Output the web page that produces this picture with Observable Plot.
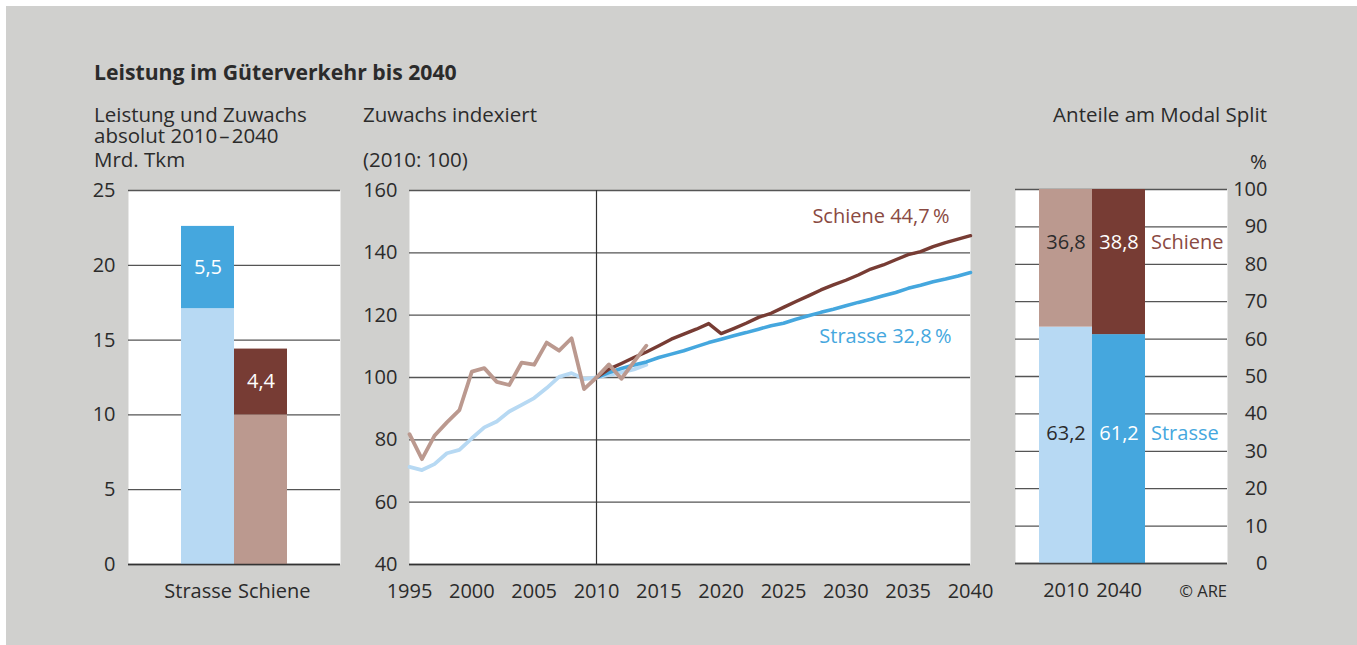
<!DOCTYPE html>
<html><head><meta charset="utf-8">
<script src="https://cdn.jsdelivr.net/npm/d3@7"></script>
<script src="https://cdn.jsdelivr.net/npm/@observablehq/plot@0.6"></script>
<style>
html,body{margin:0;padding:0;background:#fff;}
body{width:1357px;height:645px;overflow:hidden;position:relative;font-family:"Open Sans",sans-serif;}
#bg{position:absolute;left:6px;top:6px;right:0;bottom:0;background:#d0d0ce;}
.t{position:absolute;color:#2b2b2b;font-size:20.5px;line-height:21px;white-space:nowrap;font-weight:400;}
.chart{position:absolute;}
</style></head><body>
<div id="bg"></div>
<div class="t" style="left:94px;top:61px;font-weight:700;font-size:21.2px;">Leistung im Güterverkehr bis 2040</div>
<div class="t" style="left:94px;top:104px;">Leistung und Zuwachs<br>absolut 2010&#8202;–&#8202;2040</div>
<div class="t" style="left:94px;top:149px;">Mrd. Tkm</div>
<div class="t" style="left:363px;top:104px;">Zuwachs indexiert</div>
<div class="t" style="left:363px;top:149px;">(2010: 100)</div>
<div class="t" style="right:90px;top:104px;">Anteile am Modal Split</div>
<div class="t" style="right:90px;top:151px;">%</div>
<div class="t" style="right:130px;top:580px;font-size:16.5px;">© ARE</div>
<div id="c1" class="chart" style="left:60px;top:170px;"></div>
<div id="c2" class="chart" style="left:340px;top:170px;"></div>
<div id="c3" class="chart" style="left:990px;top:170px;"></div>
<script>
// ---- Data: panel 1 (Mrd. Tkm) ----
const modes = ["Strasse", "Schiene"];
const level2010 = [17.1, 10.0];
const growth2040 = [5.5, 4.4];
const leftTicks = [0, 5, 10, 15, 20, 25];

// ---- Data: panel 2 (Index 2010 = 100) ----
const histYears = [1995,1996,1997,1998,1999,2000,2001,2002,2003,2004,2005,2006,2007,2008,2009,2010,2011,2012,2013,2014];
const strasseHist = [71.3,70.3,72.2,75.7,76.8,80.5,84.0,85.9,89.1,91.2,93.4,96.6,100.2,101.4,99.5,100,100.8,101.6,102.6,104.1];
const schieneHist = [81.8,73.8,81.3,85.6,89.5,101.9,103.0,98.6,97.6,104.8,104.1,111.2,108.6,112.6,96.3,100,104.2,99.6,105.0,110.2];
const projYears = [2010,2011,2012,2013,2014,2015,2016,2017,2018,2019,2020,2021,2022,2023,2024,2025,2026,2027,2028,2029,2030,2031,2032,2033,2034,2035,2036,2037,2038,2039,2040];
const strasseProj = [100,101.6,102.9,104.0,105.0,106.4,107.5,108.6,109.9,111.2,112.3,113.4,114.4,115.5,116.6,117.4,118.7,119.8,120.9,121.9,123.0,124.1,125.1,126.2,127.3,128.6,129.6,130.7,131.6,132.6,133.7];
const schieneProj = [100,102.7,104.5,106.4,108.2,110.2,112.3,113.9,115.5,117.3,114.1,115.7,117.4,119.3,120.6,122.5,124.4,126.2,128.1,129.7,131.2,132.9,134.8,136.1,137.8,139.4,140.4,142.0,143.3,144.4,145.5];
const midXTicks = [1995,2000,2005,2010,2015,2020,2025,2030,2035,2040];
const midYTicks = [40,60,80,100,120,140,160];
const lineLabels = ["Schiene 44,7\u2009%", "Strasse 32,8\u2009%"];

// ---- Data: panel 3 (Modal Split %) ----
const splitYears = ["2010", "2040"];
const splitStrasse = [63.2, 61.2];
const splitSchiene = [36.8, 38.8];
const rightTicks = [0,10,20,30,40,50,60,70,80,90,100];

// ---- Colours ----
const C = {
  strasseLight: "#b7d9f3", strasse: "#45a7de",
  schieneLight: "#bb998f", schiene: "#773c34",
  schieneText: "#8a4a42", grid: "#555", text: "#2b2b2b"
};
const fmt = v => String(v).replace(".", ",");
const FS = 20;
const baseStyle = {background: "transparent", fontFamily: "Open Sans, sans-serif", fontSize: FS + "px", fontWeight: 400, color: C.text, overflow: "visible"};

// ---------- Panel 1 ----------
const barRows = [];
modes.forEach((m, i) => {
  barRows.push({mode: m, part: "base", value: level2010[i], fill: m === "Strasse" ? C.strasseLight : C.schieneLight});
  barRows.push({mode: m, part: "growth", value: growth2040[i], fill: m === "Strasse" ? C.strasse : C.schiene});
});
const p1 = Plot.plot({
  width: 300, height: 440,
  marginLeft: 68, marginRight: 20, marginTop: 20, marginBottom: 46,
  style: baseStyle,
  x: {type: "band", domain: modes, paddingInner: 0, paddingOuter: 1, label: null},
  y: {domain: [0, 25], label: null},
  color: {type: "identity"},
  marks: [
    Plot.frame({fill: "white", stroke: "none"}),
    Plot.ruleY(leftTicks, {stroke: C.grid, strokeWidth: 1.3}),
    Plot.barY(barRows, Plot.stackY({x: "mode", y: "value", fill: "fill", inset: 0})),
    Plot.ruleY([0], {stroke: "#333", strokeWidth: 1.5}),
    Plot.text(barRows, Plot.stackY({x: "mode", y: "value", text: d => d.part === "growth" ? fmt(d.value) : "", fill: "white", fontSize: FS})),
    Plot.axisY({ticks: leftTicks, tickSize: 0, tickPadding: 13}),
    Plot.axisX({ticks: ["Strasse"], tickSize: 0, tickPadding: 19, textAnchor: "end", dx: 24}),
    Plot.axisX({ticks: ["Schiene"], tickSize: 0, tickPadding: 19, textAnchor: "start", dx: -23})
  ]
});
document.getElementById("c1").appendChild(p1);

// ---------- Panel 2 ----------
const hist = histYears.map((y, i) => ({year: y, strasse: strasseHist[i], schiene: schieneHist[i]}));
const proj = projYears.map((y, i) => ({year: y, strasse: strasseProj[i], schiene: schieneProj[i]}));
const p2 = Plot.plot({
  width: 660, height: 440,
  marginLeft: 69, marginRight: 30, marginTop: 20, marginBottom: 46,
  style: baseStyle,
  x: {domain: [1995, 2040], label: null},
  y: {domain: [40, 160], label: null},
  marks: [
    Plot.frame({fill: "white", stroke: "none"}),
    Plot.ruleY(midYTicks, {stroke: C.grid, strokeWidth: 1.3}),
    Plot.ruleX([2010], {stroke: "#333", strokeWidth: 1.2}),
    Plot.line(hist, {x: "year", y: "strasse", stroke: C.strasseLight, strokeWidth: 3.8}),
    Plot.line(proj, {x: "year", y: "strasse", stroke: C.strasse, strokeWidth: 3.6}),
    Plot.line(proj, {x: "year", y: "schiene", stroke: C.schiene, strokeWidth: 3.4}),
    Plot.line(hist, {x: "year", y: "schiene", stroke: C.schieneLight, strokeWidth: 3.8}),
    Plot.ruleY([40], {stroke: "#333", strokeWidth: 1.5}),
    Plot.text([lineLabels[0]], {frameAnchor: "top-right", lineAnchor: "middle", dx: -21, dy: 26, textAnchor: "end", fill: C.schieneText, fontSize: FS}),
    Plot.text([lineLabels[1]], {frameAnchor: "top-right", lineAnchor: "middle", dx: -19, dy: 146, textAnchor: "end", fill: C.strasse, fontSize: FS}),
    Plot.axisY({ticks: midYTicks, tickSize: 0, tickPadding: 12}),
    Plot.axisX({ticks: midXTicks, tickSize: 0, tickPadding: 19, tickFormat: d => String(d)})
  ]
});
document.getElementById("c2").appendChild(p2);

// ---------- Panel 3 ----------
const splitRows = [];
splitYears.forEach((y, i) => {
  const late = i === 1;
  splitRows.push({year: y, mode: "Strasse", value: splitStrasse[i], fill: late ? C.strasse : C.strasseLight, textFill: late ? "white" : C.text});
  splitRows.push({year: y, mode: "Schiene", value: splitSchiene[i], fill: late ? C.schiene : C.schieneLight, textFill: late ? "white" : C.text});
});
const labelLevel = {Strasse: 34.8, Schiene: 85.8};
const p3 = Plot.plot({
  width: 320, height: 440,
  marginLeft: 25, marginRight: 83, marginTop: 19, marginBottom: 47,
  style: baseStyle,
  x: {type: "band", domain: splitYears, paddingInner: 0, paddingOuter: 1, align: 0.2264, label: null},
  y: {domain: [0, 100], label: null},
  color: {type: "identity"},
  marks: [
    Plot.frame({fill: "white", stroke: "none"}),
    Plot.ruleY(rightTicks, {stroke: C.grid, strokeWidth: 1.3}),
    Plot.barY(splitRows, Plot.stackY({x: "year", y: "value", fill: "fill"})),
    Plot.ruleY([0], {stroke: "#444", strokeWidth: 1.5}),
    Plot.text(splitRows, {x: "year", y: d => labelLevel[d.mode], text: d => fmt(d.value), fill: "textFill", fontSize: FS}),
    Plot.text(["Schiene"], {x: () => "2040", y: () => labelLevel.Schiene, text: d => d, dx: 32, textAnchor: "start", fill: C.schieneText, fontSize: FS}),
    Plot.text(["Strasse"], {x: () => "2040", y: () => labelLevel.Strasse, text: d => d, dx: 32, textAnchor: "start", fill: C.strasse, fontSize: FS}),
    Plot.axisY({anchor: "right", ticks: rightTicks, tickSize: 0, tickPadding: 40, textAnchor: "end"}),
    Plot.axisX({tickSize: 0, tickPadding: 19})
  ]
});
document.getElementById("c3").appendChild(p3);
</script>
</body></html>
